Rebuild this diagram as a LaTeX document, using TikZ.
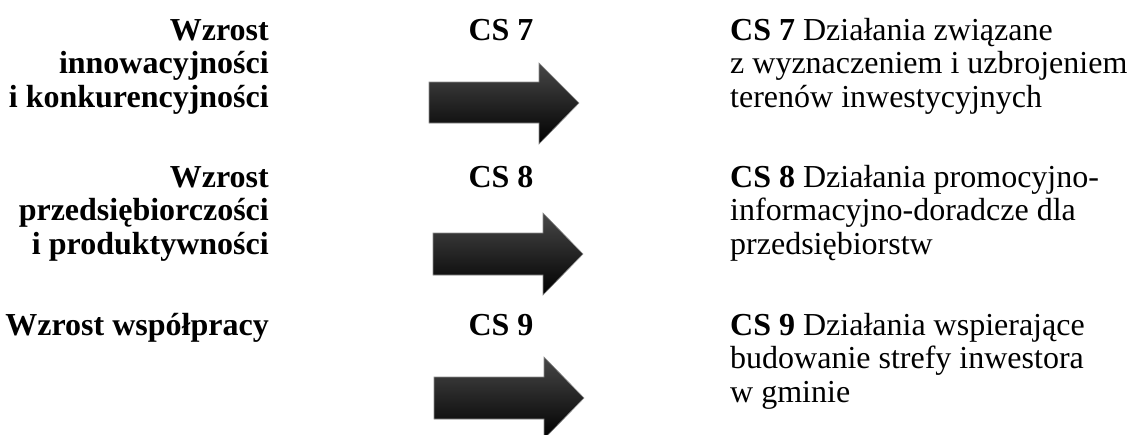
\documentclass[tikz,border=0pt]{standalone}
\usepackage{fontspec}
\setmainfont{Liberation Serif}
\begin{document}
\begin{tikzpicture}[x=1pt,y=-1pt,
  txt/.style={font=\fontsize{32}{33.5}\selectfont, inner sep=0pt},
  lbl/.style={txt, font=\fontsize{32}{33.5}\selectfont\bfseries, align=right, anchor=base east},
  cs/.style={txt, font=\fontsize{32}{33.5}\selectfont\bfseries, anchor=base},
  desc/.style={txt, align=left, anchor=base west},
  bigarrow/.style={top color=black!72, bottom color=black, draw=black!45, line width=0.6pt}]
\useasboundingbox (0,0) rectangle (1132,434);
\clip (0,0) rectangle (1132,434);
% left column (anchor = baseline of last line)
\node[lbl] (g1) at (269,107) {Wzrost\\innowacyjności\\i konkurencyjności};
\node[lbl] (g2) at (269,254) {Wzrost\\przedsiębiorczości\\i produktywności};
\node[lbl] (g3) at (269,335) {Wzrost współpracy};
% middle labels
\node[cs] (c7) at (501,40) {CS 7};
\node[cs] (c8) at (501,187) {CS 8};
\node[cs] (c9) at (501,335) {CS 9};
% right column
\node[desc] (d7) at (730,107) {\textbf{CS 7} Działania związane\\z wyznaczeniem i uzbrojeniem\\terenów inwestycyjnych};
\node[desc] (d8) at (730,254) {\textbf{CS 8} Działania promocyjno-\\informacyjno-doradcze dla\\przedsiębiorstw};
\node[desc] (d9) at (730,402) {\textbf{CS 9} Działania wspierające\\budowanie strefy inwestora\\w gminie};
% arrows
\shade[bigarrow] (429,82) -- (539,82) -- (539,63) -- (579,103) -- (539,144) -- (539,123) -- (429,123) -- cycle;
\shade[bigarrow] (433,233) -- (543,233) -- (543,213) -- (583,254) -- (543,295) -- (543,275) -- (433,275) -- cycle;
\shade[bigarrow] (434,377) -- (544,377) -- (544,357) -- (584,398) -- (544,439) -- (544,419) -- (434,419) -- cycle;
\end{tikzpicture}
\end{document}
